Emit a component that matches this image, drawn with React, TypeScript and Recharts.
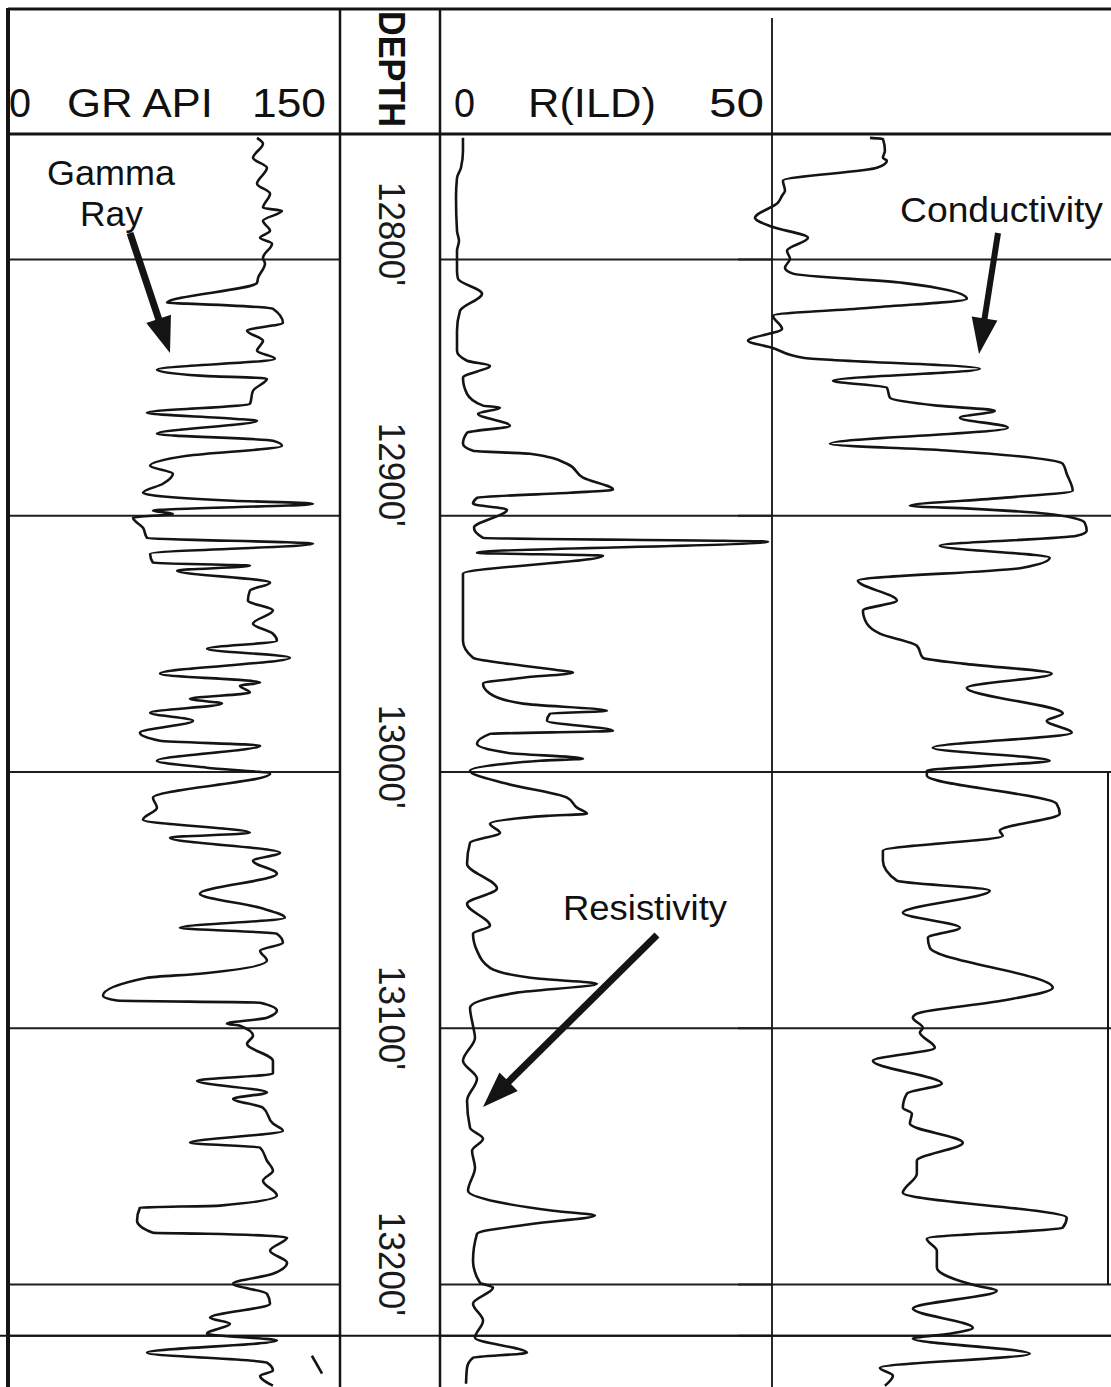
import { LineChart, Line, XAxis, YAxis, ReferenceLine } from "recharts";

// shared depth scale (feet), grid every 100 ft plus the short interval at the bottom
const depthDomain: [number, number] = [12751, 13240];
const gridDepths = [12800, 12900, 13000, 13100, 13200, 13220];
const depthLabels = ["12800'", "12900'", "13000'", "13100'", "13200'"];
const depthLabelAt = [12790, 12884, 12994, 13096, 13192];

// gamma ray, API units (0 - 150)
const grDepth = [
  12752.5, 12754.8, 12760.3, 12764.2, 12770.4, 12774.3, 12779.8, 12781.0, 12784.9, 12788.8,
  12791.5, 12793.8, 12799.3, 12801.6, 12807.1, 12809.1, 12816.9, 12817.2, 12819.2, 12824.7,
  12827.8, 12831.7, 12835.6, 12838.7, 12843.0, 12845.3, 12846.5, 12851.2, 12856.3, 12859.8,
  12862.1, 12862.9, 12868.0, 12870.7, 12872.7, 12876.6, 12880.5, 12883.6, 12887.5, 12891.0,
  12894.1, 12895.3, 12898.0, 12899.2, 12900.8, 12904.7, 12908.6, 12910.9, 12914.8, 12918.3,
  12919.5, 12921.4, 12926.1, 12929.2, 12933.1, 12937.0, 12942.1, 12946.0, 12948.8, 12951.9,
  12955.4, 12961.6, 12965.1, 12966.3, 12969.0, 12971.4, 12973.3, 12976.9, 12980.0, 12984.7,
  12987.8, 12989.7, 12995.6, 12998.3, 13000.7, 13010.0, 13013.9, 13018.6, 13023.7, 13025.6,
  13031.5, 13034.6, 13039.7, 13047.5, 13053.0, 13056.9, 13060.8, 13063.1, 13066.6, 13069.7,
  13073.6, 13078.7, 13080.3, 13087.3, 13089.2, 13090.0, 13093.1, 13095.9, 13098.2, 13099.0,
  13102.9, 13106.0, 13112.7, 13117.7, 13120.5, 13125.1, 13127.5, 13131.0, 13137.2, 13140.0,
  13144.7, 13146.6, 13151.7, 13155.6, 13159.5, 13165.3, 13169.2, 13170.0, 13175.1, 13179.8,
  13180.2, 13181.7, 13186.8, 13191.5, 13195.8, 13199.7, 13203.6, 13207.5, 13213.0, 13215.3,
  13219.2, 13221.9, 13226.6, 13230.5, 13233.6, 13235.6, 13239.5,
];
const grApi = [
  112.5, 115.2, 110.7, 117.0, 112.5, 118.4, 115.2, 123.8, 115.2, 118.4,
  113.9, 119.3, 115.2, 116.1, 113.0, 112.5, 71.8, 80.9, 119.7, 124.2,
  108.0, 115.2, 112.5, 120.6, 67.3, 86.7, 117.0, 110.7, 109.3, 62.8,
  101.7, 112.5, 67.3, 119.7, 123.8, 80.9, 64.2, 74.5, 70.0, 61.0,
  101.7, 137.8, 65.5, 74.5, 56.5, 61.0, 62.8, 137.8, 64.2, 65.5,
  109.3, 76.4, 118.4, 109.3, 108.4, 119.7, 110.7, 119.7, 121.5, 89.9,
  127.4, 68.7, 113.9, 104.8, 109.3, 82.2, 96.7, 64.2, 83.6, 59.6,
  68.7, 113.9, 67.3, 89.9, 118.4, 65.5, 67.3, 61.0, 109.3, 73.2,
  122.9, 110.7, 121.5, 86.7, 113.9, 125.1, 77.7, 121.5, 124.2, 113.9,
  117.0, 86.7, 62.8, 42.9, 49.2, 113.9, 121.5, 117.0, 98.9, 104.8,
  110.7, 108.0, 119.7, 119.7, 85.4, 117.0, 101.7, 115.2, 119.7, 124.2,
  82.2, 113.9, 117.0, 119.7, 115.2, 121.5, 95.8, 59.6, 58.3, 65.5,
  89.9, 126.1, 118.4, 126.1, 119.7, 101.7, 117.0, 118.4, 91.3, 100.3,
  89.9, 121.5, 62.8, 117.0, 119.7, 113.9, 119.7,
];
// small off-scale wrap trace near the bottom of the GR track
const grWrapDepth = [13227.8, 13234.8];
const grWrapApi = [137.3, 141.9];

// deep induction resistivity, ohm-m (0 - 50); null = trace break
const resDepth = [
  12752.5, 12757.5, 12764.2, 12768.1, 12775.9, 12788.8, 12792.7, 12796.6, 12804.4, 12807.5,
  12813.3, 12820.0, 12827.8, 12835.6, 12839.5, 12841.4, 12846.1, 12852.4, 12857.0, 12857.8,
  12860.2, 12864.9, 12867.6, 12871.9, 12874.6, 12875.8, 12879.7, 12885.1, 12889.8, 12891.0,
  12893.0, 12895.3, 12897.6, 12901.0, 12904.7, 12908.6, 12910.1, 12912.0, 12914.4, 12915.6,
  12922.6, 12948.8, 12955.4, 12957.7, 12960.5, 12961.2, 12963.2, 12965.5, 12969.4, 12973.3,
  12976.1, 12977.2, 12980.0, 12983.9, 12985.1, 12989.0, 12992.5, 12994.8, 12995.6, 12999.5,
  13004.6, 13010.0, 13013.9, 13016.3, 13017.1, 13020.2, 13023.7, 13027.6, 13035.8, 13045.5,
  13051.4, 13060.0, 13063.1, 13069.7, 13076.4, 13080.7, 13082.6, 13086.1, 13092.0, 13099.0,
  13103.7, 13112.7, 13119.7, 13128.3, 13138.8, 13143.1, 13147.8, 13154.4, 13163.4, 13168.5,
  13171.2, 13173.1, 13176.3, 13180.2, 13190.7, 13199.3, 13201.2, 13207.5, 13214.1, 13220.8,
  13226.6, 13228.6, 13232.5, 13238.7,
];
const resOhm = [
  3.46, 3.46, 3.16, 2.56, 2.41, 2.56, 2.86, 2.56, 2.56, 2.71,
  6.33, 3.01, 2.56, 2.56, 4.07, 7.53, 3.46, 4.07, 6.48, 9.04,
  5.72, 10.54, 4.07, 3.46, 4.97, 13.55, 19.13, 21.54, 26.05, 19.58,
  5.57, 4.97, 10.09, null, 5.12, 6.48, 49.4, null, 5.57, 24.55,
  3.46, 3.46, 4.97, 10.09, 18.52, 20.03, 12.5, 6.48, 7.53, 12.5,
  25.15, 16.57, 16.11, 26.05, 7.53, 5.57, 10.09, 21.54, 15.06, 4.52,
  10.09, 19.13, 20.63, 22.14, 16.11, 7.53, 9.04, 4.52, 4.07, 8.58,
  4.07, 7.53, 4.97, 5.57, 7.53, 15.06, 23.64, 11.6, 4.52, 4.97,
  5.27, 3.46, 5.57, 4.07, 4.52, 6.48, 4.82, 5.27, 4.22, 10.09,
  17.02, 23.34, 14.01, 5.57, 4.97, 6.02, 7.98, 4.97, 6.48, 5.27,
  13.1, 4.97, 4.07, 3.92,
];

// conductivity, mmho/m
const condDepth = [
  12752.5, 12752.9, 12757.5, 12760.3, 12761.4, 12764.2, 12769.2, 12773.1, 12775.1, 12777.8,
  12783.7, 12787.2, 12791.5, 12796.6, 12799.7, 12803.2, 12805.5, 12809.1, 12815.3, 12818.8,
  12821.9, 12827.0, 12831.7, 12834.4, 12838.3, 12842.6, 12847.3, 12850.0, 12853.9, 12857.0,
  12859.0, 12861.7, 12865.6, 12871.9, 12874.6, 12879.7, 12883.6, 12890.2, 12893.0, 12896.1,
  12897.2, 12899.2, 12902.7, 12905.8, 12907.8, 12911.7, 12916.4, 12920.3, 12925.3, 12933.1,
  12937.0, 12942.1, 12946.0, 12950.7, 12955.4, 12957.7, 12961.6, 12967.1, 12977.2, 12980.0,
  12984.7, 12990.5, 12995.6, 12997.5, 12999.5, 13001.4, 13012.4, 13016.3, 13022.9, 13024.9,
  13030.7, 13034.6, 13042.4, 13046.3, 13054.9, 13060.8, 13064.7, 13068.6, 13084.2, 13089.2,
  13094.3, 13095.9, 13099.8, 13101.7, 13107.6, 13112.7, 13121.6, 13125.5, 13131.0, 13133.3,
  13137.2, 13144.7, 13151.7, 13156.8, 13164.2, 13173.9, 13177.8, 13182.1, 13186.8, 13193.4,
  13200.5, 13202.4, 13209.4, 13216.9, 13219.2, 13221.1, 13227.0, 13232.5, 13235.6, 13239.5,
];
const condMmho = [
  146.3, 165.6, 168.6, 165.6, 171.5, 156.7, 16.9, 19.9, 15.5, 9.5,
  -24.7, 0.6, 54.1, 22.9, 27.4, 19.9, 31.8, 195.3, 290.5, 146.3,
  2.1, 15.5, -35.1, 0.6, 46.7, 309.8, 91.3, 171.5, 176.0, 245.9,
  332.1, 280.1, 351.4, 86.8, 265.2, 433.2, 439.1, 448.0, 344.0, 205.7,
  294.9, 409.4, 465.9, 468.8, 454.0, 250.3, 413.8, 373.7, 128.4, 186.4,
  135.9, 141.8, 161.1, 216.1, 225.1, 284.5, 416.8, 290.5, 433.2, 409.4,
  446.5, 239.9, 413.8, 324.6, 231.0, 231.0, 424.2, 428.7, 339.5, 344.0,
  165.6, 165.6, 186.4, 324.6, 195.3, 280.1, 232.5, 235.5, 418.3, 344.0,
  216.1, 210.2, 225.1, 220.6, 242.9, 150.7, 253.3, 201.3, 195.3, 208.7,
  205.7, 284.5, 216.1, 216.1, 195.3, 439.1, 433.2, 231.0, 245.9, 245.9,
  305.3, 335.1, 210.2, 299.4, 265.2, 210.2, 384.1, 161.1, 180.5, 168.6,
];

const grData = grDepth.map((d, i) => ({ depth: d, gr: grApi[i] }));
const grWrapData = grWrapDepth.map((d, i) => ({ depth: d, gr: grWrapApi[i] }));
const resData = resDepth.map((d, i) => ({ depth: d, res: resOhm[i] }));
const condData = condDepth.map((d, i) => ({ depth: d, cond: condMmho[i] }));

const TOP = 134;
const PLOT_H = 1253;
const FONT = "'Liberation Sans', Arial, sans-serif";
const INK = "#141414";
const noMargin = { top: 0, right: 0, bottom: 0, left: 0 };

const yOf = (d: number) =>
  TOP + ((d - depthDomain[0]) / (depthDomain[1] - depthDomain[0])) * PLOT_H;

const gridLines = (k: string) =>
  gridDepths.map((d) => (
    <ReferenceLine key={`${k}-${d}`} y={d} stroke="#1e1e1e" strokeWidth={2} />
  ));

const DepthTick = (props: any) => {
  const { y, payload } = props;
  const label = depthLabels[depthLabelAt.indexOf(payload.value)];
  return (
    <text
      transform={`translate(383, ${y}) rotate(90)`}
      textAnchor="middle"
      dominantBaseline="central"
      fontFamily={FONT}
      fontSize={36}
      textLength={104}
      lengthAdjust="spacingAndGlyphs"
      fill="#1a1a1a"
    >
      {label}
    </text>
  );
};

const Arrow = ({ x1, y1, x2, y2, w }: { x1: number; y1: number; x2: number; y2: number; w: number }) => {
  const dx = x2 - x1;
  const dy = y2 - y1;
  const len = Math.hypot(dx, dy);
  const ux = dx / len;
  const uy = dy / len;
  const head = 36;
  const half = 13;
  const bx = x2 - ux * head;
  const by = y2 - uy * head;
  return (
    <g>
      <line x1={x1} y1={y1} x2={bx + ux * 4} y2={by + uy * 4} stroke={INK} strokeWidth={w} />
      <polygon
        points={`${x2},${y2} ${bx - uy * half},${by + ux * half} ${bx + uy * half},${by - ux * half}`}
        fill={INK}
      />
    </g>
  );
};

export default function App() {
  return (
    <div
      style={{
        position: "absolute",
        left: 0,
        top: 0,
        width: 1111,
        height: 1387,
        background: "#fff",
        overflow: "hidden",
      }}
    >
      {/* gamma ray track + depth column on its right axis */}
      <div style={{ position: "absolute", left: 8, top: TOP }}>
        <LineChart layout="vertical" width={432} height={PLOT_H} data={grData} margin={noMargin}>
          <XAxis type="number" domain={[0, 150]} hide allowDataOverflow />
          <YAxis
            type="number"
            dataKey="depth"
            domain={depthDomain}
            orientation="right"
            width={100}
            ticks={depthLabelAt}
            interval={0}
            tick={<DepthTick />}
            axisLine={false}
            tickLine={false}
            allowDataOverflow
          />
          {gridLines("gr")}
          <Line dataKey="gr" type="monotone" stroke={INK} strokeWidth={2.6} dot={false} isAnimationActive={false} />
          <Line data={grWrapData} dataKey="gr" type="linear" stroke={INK} strokeWidth={2.6} dot={false} isAnimationActive={false} />
        </LineChart>
      </div>

      {/* resistivity track */}
      <div style={{ position: "absolute", left: 440, top: TOP }}>
        <LineChart layout="vertical" width={332} height={PLOT_H} data={resData} margin={noMargin}>
          <XAxis type="number" domain={[0, 50]} hide allowDataOverflow />
          <YAxis type="number" dataKey="depth" domain={depthDomain} hide allowDataOverflow />
          {gridLines("res")}
          <Line dataKey="res" type="monotone" stroke={INK} strokeWidth={2.6} dot={false} connectNulls={false} isAnimationActive={false} />
        </LineChart>
      </div>

      {/* conductivity track (scale starts a little left of the border so the trace can spill over) */}
      <div style={{ position: "absolute", left: 738, top: TOP }}>
        <LineChart layout="vertical" width={373} height={PLOT_H} data={condData} margin={noMargin}>
          <XAxis type="number" domain={[-50, 505]} hide allowDataOverflow />
          <YAxis type="number" dataKey="depth" domain={depthDomain} hide allowDataOverflow />
          {gridLines("cond")}
          <Line dataKey="cond" type="monotone" stroke={INK} strokeWidth={2.6} dot={false} isAnimationActive={false} />
        </LineChart>
      </div>

      {/* frame, header and annotations */}
      <svg
        width={1111}
        height={1387}
        style={{ position: "absolute", left: 0, top: 0, pointerEvents: "none" }}
      >
        <g stroke={INK}>
          <line x1={8} y1={9} x2={1111} y2={9} strokeWidth={3} />
          <line x1={8} y1={TOP} x2={1111} y2={TOP} strokeWidth={3} />
          <line x1={8} y1={8} x2={8} y2={1387} strokeWidth={4} />
          <line x1={340} y1={8} x2={340} y2={1387} strokeWidth={2.5} />
          <line x1={440} y1={8} x2={440} y2={1387} strokeWidth={2.5} />
          <line x1={772} y1={18} x2={772} y2={1387} strokeWidth={1.8} />
          <line x1={1108} y1={yOf(13000)} x2={1108} y2={yOf(13200)} strokeWidth={2} />
          <line x1={0} y1={yOf(13220)} x2={1111} y2={yOf(13220)} strokeWidth={2} />
        </g>

        <g fontFamily={FONT} fontSize={40} fill="#111">
          <text x={9} y={117} textLength={22} lengthAdjust="spacingAndGlyphs">0</text>
          <text x={67} y={117} textLength={146} lengthAdjust="spacingAndGlyphs">GR API</text>
          <text x={252} y={117} textLength={74} lengthAdjust="spacingAndGlyphs">150</text>
          <text x={454} y={117} textLength={21} lengthAdjust="spacingAndGlyphs">0</text>
          <text x={528} y={117} textLength={128} lengthAdjust="spacingAndGlyphs">R(ILD)</text>
          <text x={709} y={117} textLength={55} lengthAdjust="spacingAndGlyphs">50</text>
          <text
            transform="translate(391, 69) rotate(90)"
            textAnchor="middle"
            dominantBaseline="central"
            fontSize={36}
            fontWeight="bold"
            textLength={116}
            lengthAdjust="spacingAndGlyphs"
          >
            DEPTH
          </text>
        </g>

        <g fontFamily={FONT} fontSize={35} fill="#111">
          <text x={47} y={185} textLength={128} lengthAdjust="spacingAndGlyphs">Gamma</text>
          <text x={80} y={226} textLength={63} lengthAdjust="spacingAndGlyphs">Ray</text>
          <text x={900} y={222} textLength={203} lengthAdjust="spacingAndGlyphs">Conductivity</text>
          <text x={563} y={920} textLength={164} lengthAdjust="spacingAndGlyphs">Resistivity</text>
        </g>

        <Arrow x1={130} y1={233} x2={170} y2={353} w={7} />
        <Arrow x1={998} y1={233} x2={979} y2={354} w={6} />
        <Arrow x1={657} y1={935} x2={483} y2={1107} w={7} />
      </svg>
    </div>
  );
}
